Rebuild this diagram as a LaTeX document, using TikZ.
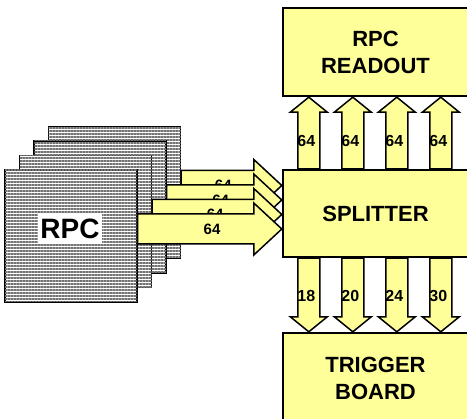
\documentclass[tikz,border=0pt]{standalone}
\usepackage{fontspec}
\setmainfont{Liberation Sans}
\usetikzlibrary{calc,patterns.meta}
\definecolor{boxYellow}{RGB}{255,255,153}
\definecolor{sheetGray}{RGB}{115,115,115}

\tikzset{
	block/.style={rectangle, draw=black, line width=2.4pt, fill=boxYellow, minimum width=185pt,
		inner sep=0pt, align=center, font=\fontsize{22}{27}\selectfont\bfseries},
	sheet/.style={rectangle, draw=black, line width=1.4pt, fill=white, minimum width=132pt, minimum height=132pt,
		postaction={pattern={Lines[angle=0, distance=3pt, line width=1.4pt]}, pattern color=sheetGray}},
	fat/.style={draw=black, line width=1.5pt, fill=boxYellow, line join=miter},
	vlabel/.style={inner sep=0pt, xshift=8.5pt, font=\fontsize{16}{16}\selectfont\bfseries},
	hlabel/.style={inner sep=0pt, yshift=-15pt, font=\fontsize{15}{15}\selectfont\bfseries},
	fat right/.style={fat, to path={
		($(\tikztostart.east)+(0,-7)$) coordinate (fa)
		(fa -| \tikztotarget.west) coordinate (fb)
		($(fa)+(0,-15)$) -- ($(fb)+(-28,-15)$) \tikztonodes
		-- ($(fb)+(-28,-26)$) -- (fb) -- ($(fb)+(-28,26)$)
		-- ($(fb)+(-28,15)$) -- ($(fa)+(0,15)$) -- cycle}},
	fat up/.style={fat, to path={
		($(\tikztostart.north west)+(#1,0)$) coordinate (fa)
		($(\tikztotarget.south west)+(#1,0)$) coordinate (fb)
		($(fa)+(-11,0)$) -- ($(fb)+(-11,15)$) \tikztonodes
		-- ($(fb)+(-18.5,15)$) -- (fb) -- ($(fb)+(18.5,15)$)
		-- ($(fb)+(11,15)$) -- ($(fa)+(11,0)$) -- cycle}},
	fat down/.style={fat, to path={
		($(\tikztostart.south west)+(#1,0)$) coordinate (fa)
		($(\tikztotarget.north west)+(#1,0)$) coordinate (fb)
		($(fa)+(-11,0)$) -- ($(fb)+(-11,-15)$) \tikztonodes
		-- ($(fb)+(-18.5,-15)$) -- (fb) -- ($(fb)+(18.5,-15)$)
		-- ($(fb)+(11,-15)$) -- ($(fa)+(11,0)$) -- cycle}}
}

\begin{document}
\begin{tikzpicture}[x=1pt, y=-1pt, text=black]
	\useasboundingbox (0,0) rectangle (467,419);

	% Boxes
	\begin{scope}[every node/.style={block}]
		\node (readout) at (375.5,52) [minimum height=88pt] {RPC\\READOUT};
		\node (splitter) at (375.5,213.5) [minimum height=87pt] {SPLITTER};
		\node (trigger) at (375.5,378) [minimum height=90pt] {TRIGGER\\BOARD};
	\end{scope}

	% RPC sheets
	\begin{scope}[every node/.style={sheet}]
		\node (sheet4) at (114.5,192.5) {};
		\node (sheet3) at (100,207) {};
		\node (sheet2) at (85.5,221.5) {};
		\node (sheet1) at (71,236) {};
	\end{scope}
	\node (rpclabel) at (70,229) [fill=white, inner sep=0pt, minimum width=64pt, minimum height=30pt,
		font=\fontsize{28}{28}\selectfont\bfseries] {RPC};

	% Sheets to splitter
	\path (sheet4) edge[fat right] node[hlabel, pos=0.58] {64} (splitter);
	\path (sheet3) edge[fat right] node[hlabel, pos=0.62] {64} (splitter);
	\path (sheet2) edge[fat right] node[hlabel, pos=0.62] {64} (splitter);
	\path (sheet1) edge[fat right] node[hlabel, pos=0.64] {64} (splitter);

	% Splitter to readout
	\path (splitter) edge[fat up=27] node[vlabel, pos=0.5] {64} (readout);
	\path (splitter) edge[fat up=71] node[vlabel, pos=0.5] {64} (readout);
	\path (splitter) edge[fat up=115] node[vlabel, pos=0.5] {64} (readout);
	\path (splitter) edge[fat up=159] node[vlabel, pos=0.5] {64} (readout);

	% Splitter to trigger
	\path (splitter) edge[fat down=27] node[vlabel, pos=0.64] {18} (trigger);
	\path (splitter) edge[fat down=71] node[vlabel, pos=0.64] {20} (trigger);
	\path (splitter) edge[fat down=115] node[vlabel, pos=0.64] {24} (trigger);
	\path (splitter) edge[fat down=159] node[vlabel, pos=0.64] {30} (trigger);
\end{tikzpicture}
\end{document}
